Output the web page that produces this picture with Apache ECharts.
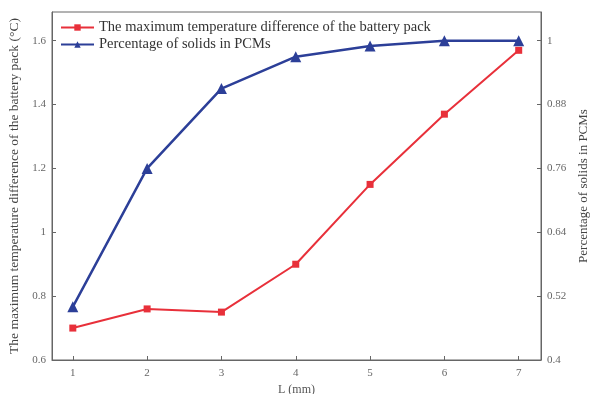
<!DOCTYPE html>
<html><head><meta charset="utf-8">
<script src="https://cdn.jsdelivr.net/npm/echarts@6/dist/echarts.min.js"></script>
<style>html,body{margin:0;padding:0;background:#fff}#c{width:590px;height:394px}</style>
</head><body><div id="c"></div>
<script>
const xValues = [1, 2, 3, 4, 5, 6, 7];
const tempDiff = [0.70, 0.76, 0.75, 0.90, 1.15, 1.37, 1.57];
const solidPct = [0.50, 0.76, 0.91, 0.97, 0.99, 1.00, 1.00];
const leftTicks = [0.6, 0.8, 1.0, 1.2, 1.4, 1.6];
const rightTicks = [0.4, 0.52, 0.64, 0.76, 0.88, 1.0];
const seriesNames = ['The maximum temperature difference of the battery pack', 'Percentage of solids in PCMs'];

const font = 'Liberation Serif, Times New Roman, serif';
const axisCol = '#666';
const chart = echarts.init(document.getElementById('c'));
chart.setOption({
  animation: false,
  backgroundColor: '#fff',
  grid: { left: 52, right: 49, top: 12, bottom: 34, show: true, borderColor: axisCol, borderWidth: 1, outerBoundsMode: 'none' },
  legend: {
    left: 55, top: 15, orient: 'vertical', itemWidth: 33, itemHeight: 8, itemGap: 2,
    textStyle: { fontFamily: font, fontSize: 14.5, color: '#333' },
    data: seriesNames
  },
  xAxis: {
    type: 'value', min: 0.72, max: 7.3,
    name: 'L (mm)', nameLocation: 'middle', nameGap: 22,
    nameTextStyle: { fontFamily: font, fontSize: 12, color: '#555' },
    axisLine: { lineStyle: { color: axisCol } },
    axisTick: { inside: true, length: 4, customValues: xValues, lineStyle: { color: axisCol } },
    axisLabel: { customValues: xValues, fontFamily: font, fontSize: 11, color: '#666', margin: 8 },
    splitLine: { show: false }
  },
  yAxis: [{
    type: 'value', min: 0.6, max: 1.69,
    name: 'The maximum temperature difference of the battery pack (°C)', nameLocation: 'middle', nameGap: 22,
    nameTextStyle: { fontFamily: font, fontSize: 13.5, color: '#444' },
    axisLine: { show: true, lineStyle: { color: axisCol } },
    axisTick: { show: true, inside: true, length: 4, customValues: leftTicks, lineStyle: { color: axisCol } },
    axisLabel: { customValues: leftTicks, fontFamily: font, fontSize: 11, color: '#666', margin: 6,
      formatter: v => String(Math.round(v * 100) / 100) },
    splitLine: { show: false }
  }, {
    type: 'value', min: 0.4, max: 1.054, position: 'right',
    name: 'Percentage of solids in PCMs', nameLocation: 'middle', nameGap: 32,
    nameTextStyle: { fontFamily: font, fontSize: 13, color: '#444' },
    axisLine: { show: true, lineStyle: { color: axisCol } },
    axisTick: { show: true, inside: true, length: 4, customValues: rightTicks, lineStyle: { color: axisCol } },
    axisLabel: { customValues: rightTicks, fontFamily: font, fontSize: 11, color: '#666', margin: 6,
      formatter: v => String(Math.round(v * 100) / 100) },
    splitLine: { show: false }
  }],
  series: [{
    name: seriesNames[0], type: 'line', yAxisIndex: 0,
    data: xValues.map((x, i) => [x, tempDiff[i]]),
    symbol: 'rect', symbolSize: 7,
    lineStyle: { color: '#e8303a', width: 2 }, itemStyle: { color: '#e8303a' }
  }, {
    name: seriesNames[1], type: 'line', yAxisIndex: 1,
    data: xValues.map((x, i) => [x, solidPct[i]]),
    symbol: 'triangle', symbolSize: 11,
    lineStyle: { color: '#2c3f98', width: 2.5 }, itemStyle: { color: '#2c3f98' }
  }]
});
</script></body></html>
